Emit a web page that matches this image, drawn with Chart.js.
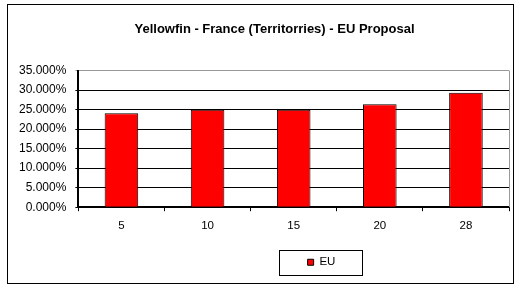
<!DOCTYPE html>
<html lang="en">
<head>
    <meta charset="UTF-8">
    <title>Yellowfin - France (Territorries) - EU Proposal</title>
    <script src="https://cdn.jsdelivr.net/npm/chart.js"></script>
    <style>
        html, body { margin: 0; padding: 0; background: #fff; }
        #wrap { width: 521px; height: 285px; }
    </style>
</head>
<body>
    <div id="wrap"><canvas id="grafico" width="521" height="285"></canvas></div>

    <script>
        // datos
        const categorias = ['5', '10', '15', '20', '28'];
        const valoresEU = [0.241, 0.250, 0.250, 0.264, 0.293];
        const titulo = 'Yellowfin - France (Territorries) - EU Proposal';
        const nombreSerie = 'EU';

        const fuente = "'Liberation Sans', Arial, sans-serif";

        // marco exterior, borde derecho del area y caja de la leyenda
        const marcos = {
            id: 'marcos',
            afterLayout(chart) {
                chart.legend.left += 62;
                chart.legend.right += 62;
                chart.titleBlock.left += 15;
                chart.titleBlock.right += 15;
            },
            afterDraw(chart) {
                const ctx = chart.ctx;
                const a = chart.chartArea;
                ctx.save();
                ctx.strokeStyle = '#000';
                ctx.lineWidth = 1;
                ctx.strokeRect(7.5, 4.5, 506, 279);

                ctx.strokeStyle = '#999';
                ctx.beginPath();
                ctx.moveTo(Math.round(a.right) + 0.5, a.top);
                ctx.lineTo(Math.round(a.right) + 0.5, a.bottom);
                ctx.stroke();

                const hb = chart.legend.legendHitBoxes[0];
                if (hb) {
                    const cx = hb.left + hb.width / 2 - 2;
                    const cy = hb.top + hb.height / 2;
                    ctx.strokeStyle = '#000';
                    ctx.strokeRect(Math.round(cx - 41) + 0.5, Math.round(cy - 12) + 0.5, 83, 25);
                }
                ctx.restore();
            }
        };

        const ctx = document.getElementById('grafico').getContext('2d');
        new Chart(ctx, {
            type: 'bar',
            data: {
                labels: categorias,
                datasets: [{
                    label: nombreSerie,
                    data: valoresEU,
                    backgroundColor: '#ff0000',
                    borderColor: '#000',
                    borderWidth: 1,
                    barPercentage: 0.39,
                    categoryPercentage: 1
                }]
            },
            options: {
                responsive: false,
                animation: false,
                layout: { padding: { left: 10, right: 12, top: 22, bottom: 7 } },
                plugins: {
                    title: {
                        display: true,
                        text: titulo,
                        color: '#000',
                        font: { family: fuente, size: 13, weight: 'bold' },
                        padding: { top: 0, bottom: 33 }
                    },
                    legend: {
                        position: 'bottom',
                        labels: {
                            color: '#000',
                            font: { family: fuente, size: 11.5 },
                            boxWidth: 6,
                            boxHeight: 6,
                            padding: 15.5
                        }
                    },
                    tooltip: { enabled: false }
                },
                scales: {
                    x: {
                        offset: true,
                        grid: {
                            offset: true,
                            drawOnChartArea: false,
                            color: '#000',
                            tickLength: 4
                        },
                        border: { color: '#000', width: 2 },
                        ticks: {
                            color: '#000',
                            font: { family: fuente, size: 11.5 },
                            padding: 8
                        }
                    },
                    y: {
                        min: 0,
                        max: 0.35,
                        grid: {
                            color: ctx => ctx.tick && ctx.tick.value >= 0.35 ? '#999' : '#000',
                            tickLength: 3
                        },
                        border: { color: '#000', width: 2 },
                        ticks: {
                            stepSize: 0.05,
                            color: '#000',
                            font: { family: fuente, size: 12 },
                            padding: 9,
                            callback: v => (v * 100).toFixed(3) + '%'
                        }
                    }
                }
            },
            plugins: [marcos]
        });
    </script>
</body>
</html>
